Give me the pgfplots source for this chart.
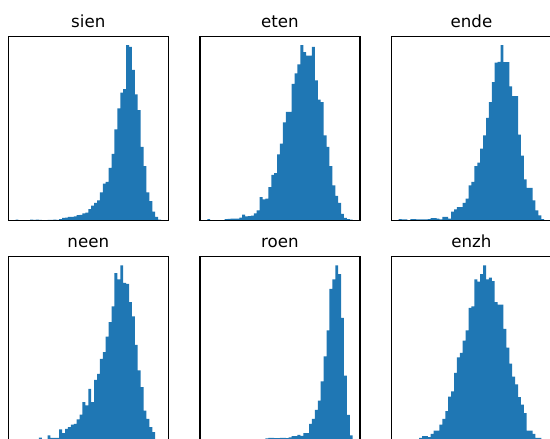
\documentclass[border=0pt]{standalone}
\usepackage{pgfplots}
\usepackage{pgfplotstable}
\pgfplotsset{compat=1.18}
\usepackage{fontspec}
\setmainfont{DejaVu Sans}
\definecolor{mplblue}{HTML}{1F77B4}

\pgfplotstableread{
bin sien eten ende neen roen enzh
0 0.5 0.8 0.8 0 0 0
1 0 0 0.6 0 0 0
2 0 0 0.6 0 0 0
3 0 0 0 0 0 0
4 0 0 0.7 0.3 0 0.5
5 0.5 0 0.7 0.3 0 0.5
6 0.4 0.8 0.6 0.3 0 0.5
7 0.5 0.9 0.6 0.6 0 1.5
8 0.4 1 0.6 1.7 0 2.5
9 0 1 0.6 0.6 0 2.5
10 0.2 1.1 0.7 0.6 0 1.9
11 0.4 1.6 1.3 2.9 0 3.8
12 0.4 3.4 1.3 1.5 0 5.7
13 0.5 2.3 1.0 1.5 0 5.7
14 0.3 2.5 0.6 1.5 0 9
15 0.8 2.8 2 6.3 0 12.4
16 1.5 4 2 4.2 0 16.7
17 1.6 5.7 1.0 6.7 0 25
18 2 13.3 5 7.6 0.8 28
19 2 12 6.3 9 0.8 38.6
20 2.3 12.5 7.6 9.5 1.2 47.5
21 3 19 7.6 12 1.5 50
22 3.2 26 10 14.8 1.5 57
23 4 27 12.4 21.9 1.3 62.8
24 4.5 37.7 20 20 1.3 75.7
25 6.5 43.8 22 29.5 1.5 76.5
26 8.5 56 31 21.9 1.5 92
27 10 62 33 34.6 1.3 90.7
28 11.5 62 41 38 1.8 95
29 16 78 48.5 46.6 2.5 100
30 21 84 58.6 50.4 2.5 92
31 22 89 67.5 59.3 3.2 93
32 30 100 79 67.5 2.7 91
33 38 96 90 76.5 4.2 79
34 52 94 90.5 95.5 4.2 77.6
35 64 94 100 92 9.5 77.6
36 73 99 90.4 100 12.4 63.7
37 75 80 90.4 90 17.5 53
38 100 69 76.5 89.4 22.8 43.8
39 99 67.5 71 79 33.7 36.5
40 86 48.5 71 70.8 48 32
41 72 42 49 54.6 62.8 24.7
42 63 31 37 40 86.5 20.5
43 42 20 23.4 30.4 92 15.6
44 31 14 18.6 17 100 5.7
45 16 10 18.6 12.4 95 5.7
46 11 3.8 11.4 7.6 70 3.8
47 5 1.5 5.7 4.8 37 1.5
48 2 0.8 2.9 0.5 14.6 1.5
49 0.5 0.5 0.8 0.3 2.9 0.5
50 0 0 0 0 0 0
}\hist

\pgfplotsset{
  histax/.style={
    anchor=south west,
    width=120pt, height=138pt, scale only axis,
    xmin=-2.5, xmax=52.5, ymin=0, ymax=105,
    xtick=\empty, ytick=\empty,
    axis line style={line width=0.8pt},
    axis on top,
    every axis title/.style={at={(0.5,1)}, anchor=base, yshift=7pt, font=\fontsize{12.5}{15}\selectfont},
  },
  histplot/.style={const plot, fill=mplblue, draw=none},
}

\begin{document}
\begin{tikzpicture}
\path[use as bounding box] (0,0) rectangle (412.5pt,329.25pt);
\clip (0,0) rectangle (412.5pt,329.25pt);
% row 1
\begin{axis}[histax, at={(6.225pt,163.9pt)}, title={sien}]
\addplot[histplot] table[x=bin, y=sien] {\hist} \closedcycle;
\end{axis}
\begin{axis}[histax, at={(150pt,163.9pt)}, title={eten}]
\addplot[histplot] table[x=bin, y=eten] {\hist} \closedcycle;
\end{axis}
\begin{axis}[histax, at={(293.6pt,163.9pt)}, title={ende}]
\addplot[histplot] table[x=bin, y=ende] {\hist} \closedcycle;
\end{axis}
% row 2
\begin{axis}[histax, at={(6.225pt,-1.125pt)}, title={neen}]
\addplot[histplot] table[x=bin, y=neen] {\hist} \closedcycle;
\end{axis}
\begin{axis}[histax, at={(150pt,-1.125pt)}, title={roen}]
\addplot[histplot] table[x=bin, y=roen] {\hist} \closedcycle;
\end{axis}
\begin{axis}[histax, at={(293.6pt,-1.125pt)}, title={enzh}]
\addplot[histplot] table[x=bin, y=enzh] {\hist} \closedcycle;
\end{axis}
\end{tikzpicture}
\end{document}
